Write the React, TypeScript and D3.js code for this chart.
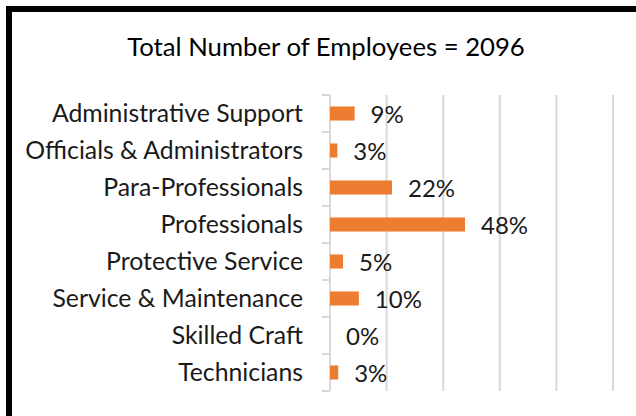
import React, { useEffect, useRef } from 'react';
import * as d3 from 'd3';

const categories = [
  'Administrative Support',
  'Officials & Administrators',
  'Para-Professionals',
  'Professionals',
  'Protective Service',
  'Service & Maintenance',
  'Skilled Craft',
  'Technicians',
];
// share of employees, in percent
const shares = [8.7, 2.6, 21.9, 47.7, 4.6, 10.2, 0, 2.9];
const valueLabels = ['9%', '3%', '22%', '48%', '5%', '10%', '0%', '3%'];
const gridTicks = [0, 20, 40, 60, 80, 100];
const title = 'Total Number of Employees = 2096';

const width = 636;
const height = 416;
const FONT = 'Lato, "Open Sans", sans-serif';

const App: React.FC = () => {
  const svgRef = useRef<SVGSVGElement>(null);

  useEffect(() => {
    if (!svgRef.current) return;
    const svg = d3.select(svgRef.current);
    svg.selectAll('*').remove();

    const x = d3.scaleLinear().domain([0, 100]).range([330, 613]);
    const y = d3.scaleBand<string>().domain(categories).range([95, 391]).paddingInner(0.62).paddingOuter(0.31);
    const band = d3.scaleBand<string>().domain(categories).range([95, 391]);

    svg.append('rect').attr('width', width).attr('height', height).attr('fill', '#fff');

    // frame (only left and top visible)
    svg.append('path')
      .attr('d', `M9,${height} V9 H${width}`)
      .attr('fill', 'none')
      .attr('stroke', '#000')
      .attr('stroke-width', 6);

    svg.append('text')
      .attr('x', 326)
      .attr('y', 56)
      .attr('text-anchor', 'middle')
      .attr('font-family', FONT)
      .attr('font-size', 25.7)
      .attr('fill', '#000')
      .text(title);

    // gridlines
    svg.append('g')
      .selectAll('line')
      .data(gridTicks.slice(1))
      .join('line')
      .attr('x1', d => x(d))
      .attr('x2', d => x(d))
      .attr('y1', 95)
      .attr('y2', 391)
      .attr('stroke', '#d9d9d9')
      .attr('stroke-width', 2);

    // category axis
    const axis = svg.append('g');
    axis.append('line')
      .attr('x1', x(0)).attr('x2', x(0))
      .attr('y1', 95).attr('y2', 391)
      .attr('stroke', '#d9d9d9').attr('stroke-width', 2);
    const tickYs = categories.map(c => band(c) as number).concat([391]);
    axis.selectAll('line.tick')
      .data(tickYs)
      .join('line')
      .attr('class', 'tick')
      .attr('x1', x(0) - 8).attr('x2', x(0))
      .attr('y1', d => d).attr('y2', d => d)
      .attr('stroke', '#d9d9d9').attr('stroke-width', 2);

    axis.selectAll('text')
      .data(categories)
      .join('text')
      .attr('x', 303)
      .attr('y', d => (band(d) as number) + band.bandwidth() / 2)
      .attr('dy', '0.36em')
      .attr('text-anchor', 'end')
      .attr('font-family', FONT)
      .attr('font-size', 24.8)
      .attr('fill', '#1a1a1a')
      .text(d => d);

    // bars
    svg.append('g')
      .attr('fill', '#ed7d31')
      .selectAll('rect')
      .data(shares)
      .join('rect')
      .attr('x', x(0))
      .attr('y', (d, i) => y(categories[i]) as number)
      .attr('width', d => x(d) - x(0))
      .attr('height', y.bandwidth());

    svg.append('g')
      .selectAll('text')
      .data(shares)
      .join('text')
      .attr('x', d => x(d) + 16)
      .attr('y', (d, i) => (band(categories[i]) as number) + band.bandwidth() / 2)
      .attr('dy', '0.38em')
      .attr('font-family', FONT)
      .attr('font-size', 24)
      .attr('fill', '#1a1a1a')
      .text((d, i) => valueLabels[i]);
  }, []);

  return (
    <div style={{ position: 'fixed', left: 0, top: 0, width, height }}>
      <svg ref={svgRef} width={width} height={height} style={{ display: 'block' }} />
    </div>
  );
};

export default App;
